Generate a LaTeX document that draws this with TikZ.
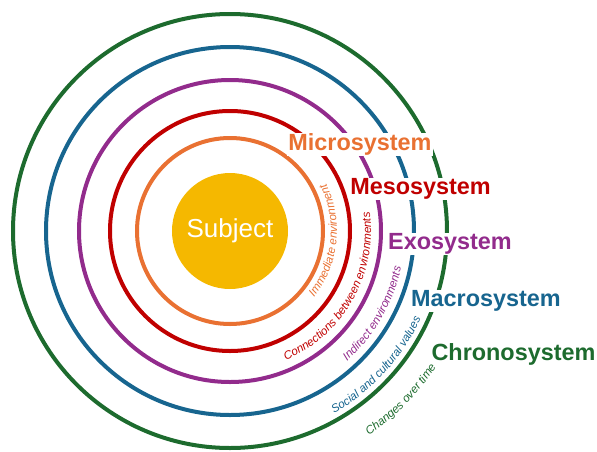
\documentclass[tikz,border=0pt]{standalone}
\usepackage{fontspec}
\setmainfont{Liberation Sans}
\usetikzlibrary{decorations.text}
\definecolor{subj}{HTML}{F5B800}
\definecolor{micro}{HTML}{E97132}
\definecolor{meso}{HTML}{C00000}
\definecolor{exo}{HTML}{922B8C}
\definecolor{macro}{HTML}{17658F}
\definecolor{chrono}{HTML}{1D6B2E}
\newcommand\notefont{\fontsize{11.5}{13}\selectfont\itshape}
\begin{document}
\begin{tikzpicture}[x=1pt, y=1pt, line cap=round,
	ring/.style={line width=4pt},
	syslabel/.style={fill=white, inner sep=1pt, font=\fontsize{23.4}{28}\selectfont\bfseries},
	note/.style={decorate, decoration={text along path, text align=center, text={#1}}}]
	\useasboundingbox (-230,-220) rectangle (367,231);
	\node[circle, fill=subj, minimum size=116pt, inner sep=0pt, text=white, font=\fontsize{26}{30}\selectfont] (subject) at (0,0) {Subject};
	\foreach \r/\c in {93/micro, 120/meso, 151/exo, 184/macro, 217/chrono}
		\draw[ring, \c] (subject.center) circle[radius=\r];
	% system names
	\node[syslabel, text=micro] (microlbl) at (130,86.5) {Microsystem};
	\node[syslabel, text=meso] (mesolbl) at (190.5,42) {Mesosystem};
	\node[syslabel, text=exo] (exolbl) at (220,-13) {Exosystem};
	\node[syslabel, text=macro] (macrolbl) at (256,-70) {Macrosystem};
	\node[syslabel, text=chrono] (chronolbl) at (283.5,-123.5) {Chronosystem};
	% notes along the rings
	\path[note={|\notefont\color{micro}|Immediate environment}] (-46:107) arc[start angle=-46, end angle=34, radius=107];
	\path[note={|\notefont\color{meso}|Connections between environments}] (-74.5:141) arc[start angle=-74.5, end angle=15.5, radius=141];
	\path[note={|\notefont\color{exo}|Indirect environments}] (-65:175) arc[start angle=-65, end angle=5, radius=175];
	\path[note={|\notefont\color{macro}|Social and cultural values}] (-77.5:210) arc[start angle=-77.5, end angle=-7.5, radius=210];
	\path[note={|\notefont\color{chrono}|Changes over time}] (-74.6:247) arc[start angle=-74.6, end angle=-14.6, radius=247];
\end{tikzpicture}
\end{document}
